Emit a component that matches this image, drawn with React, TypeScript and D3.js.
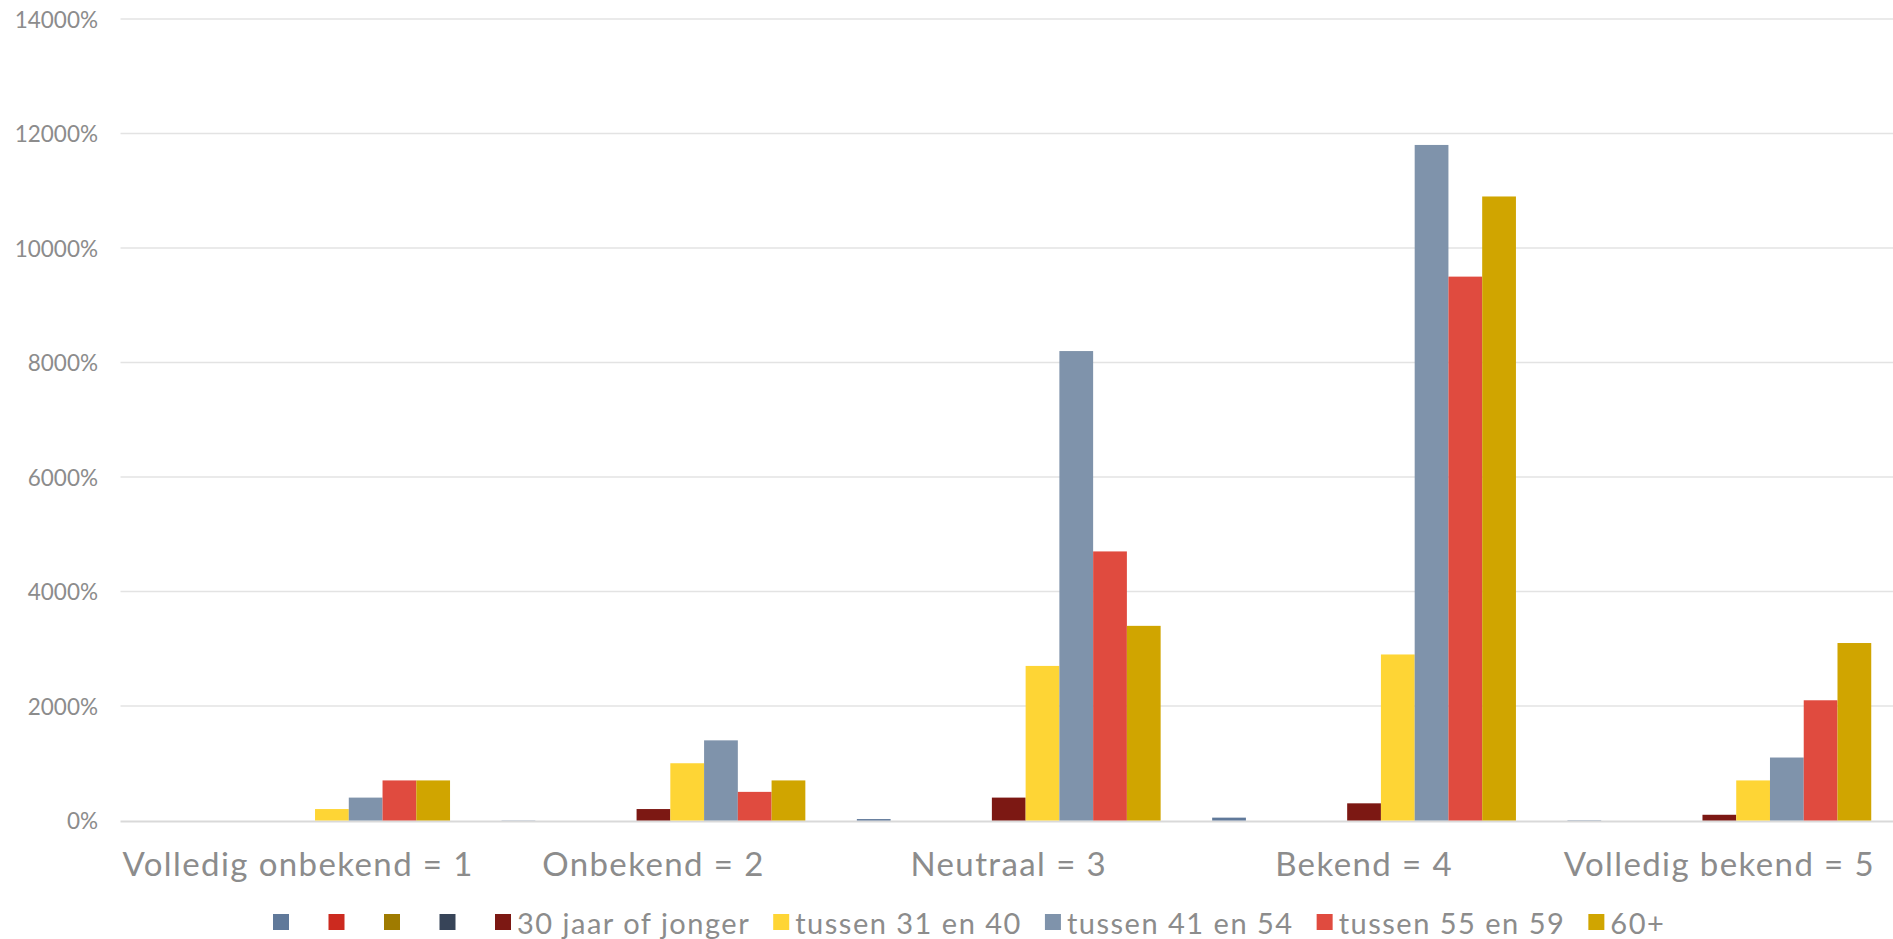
import React, { useEffect, useRef } from "react";
import * as d3 from "d3";

const categories = [
  "Volledig onbekend = 1",
  "Onbekend = 2",
  "Neutraal = 3",
  "Bekend = 4",
  "Volledig bekend = 5",
];
const seriesNames = [
  "",
  "",
  "",
  "",
  "30 jaar of jonger",
  "tussen 31 en 40",
  "tussen 41 en 54",
  "tussen 55 en 59",
  "60+",
];
const seriesColors = [
  "#60799a",
  "#cc2a1f",
  "#9f7b00",
  "#374458",
  "#7c1813",
  "#fed535",
  "#7f93ab",
  "#e04b3f",
  "#d0a500",
];
const serieA = [0, 3, 25, 50, 5];
const serieB = [0, 0, 0, 0, 0];
const serieC = [0, 0, 0, 0, 0];
const serieD = [0, 0, 0, 0, 0];
const jonger30 = [0, 200, 400, 300, 100];
const tussen31_40 = [200, 1000, 2700, 2900, 700];
const tussen41_54 = [400, 1400, 8200, 11800, 1100];
const tussen55_59 = [700, 500, 4700, 9500, 2100];
const plus60 = [700, 700, 3400, 10900, 3100];
const yTicks = [0, 2000, 4000, 6000, 8000, 10000, 12000, 14000];

const seriesValues = [
  serieA,
  serieB,
  serieC,
  serieD,
  jonger30,
  tussen31_40,
  tussen41_54,
  tussen55_59,
  plus60,
];

const W = 1893;
const H = 939;
const FONT = "Lato, 'Open Sans', sans-serif";
const TEXT = "#8c8c8c";

export default function App() {
  const ref = useRef<SVGSVGElement | null>(null);

  useEffect(() => {
    document.body.style.margin = "0";
    const svg = d3.select(ref.current);
    svg.selectAll("*").remove();

    const left = 120.5;
    const right = 1893;
    const y = d3.scaleLinear().domain([0, 14000]).range([820.5, 19]);
    const x0 = d3
      .scaleBand<string>()
      .domain(categories)
      .range([left, 1897])
      .paddingInner(0.145)
      .paddingOuter(0.0725);
    const x1 = d3
      .scaleBand<number>()
      .domain(d3.range(seriesNames.length))
      .range([0, x0.bandwidth()]);

    // gridlines
    svg
      .append("g")
      .selectAll("line")
      .data(yTicks.filter((t) => t > 0))
      .join("line")
      .attr("x1", left)
      .attr("x2", right)
      .attr("y1", (d) => y(d))
      .attr("y2", (d) => y(d))
      .attr("stroke", "#e3e3e3")
      .attr("stroke-width", 1.3);

    // baseline
    svg
      .append("line")
      .attr("x1", left)
      .attr("x2", right)
      .attr("y1", y(0) + 1)
      .attr("y2", y(0) + 1)
      .attr("stroke", "#d9d9d9")
      .attr("stroke-width", 2);

    // y labels
    svg
      .append("g")
      .selectAll("text")
      .data(yTicks)
      .join("text")
      .attr("x", 98)
      .attr("y", (d) => y(d))
      .attr("text-anchor", "end")
      .attr("dominant-baseline", "central")
      .attr("font-family", FONT)
      .attr("font-size", 22.5)
      .attr("fill", TEXT)
      .text((d) => `${d}%`);

    // bars
    const groups = svg
      .append("g")
      .selectAll("g")
      .data(categories)
      .join("g")
      .attr("transform", (d) => `translate(${x0(d)},0)`);

    groups
      .selectAll("rect")
      .data((_, ci) =>
        seriesValues.map((vals, si) => ({ si, v: vals[ci] }))
      )
      .join("rect")
      .attr("x", (d) => x1(d.si)!)
      .attr("width", x1.bandwidth())
      .attr("y", (d) => y(d.v))
      .attr("height", (d) => y(0) - y(d.v))
      .attr("fill", (d) => seriesColors[d.si]);

    // category labels
    svg
      .append("g")
      .selectAll("text")
      .data(categories)
      .join("text")
      .attr("x", (d) => x0(d)! + x0.bandwidth() / 2)
      .attr("y", 876)
      .attr("text-anchor", "middle")
      .attr("font-family", FONT)
      .attr("font-size", 33)
      .attr("letter-spacing", 1.4)
      .attr("fill", TEXT)
      .text((d) => d);

    // legend
    const lg = svg.append("g");
    const sq = 16;
    const tg = 6;
    const items: { g: any; w: number }[] = [];
    seriesNames.forEach((name, i) => {
      const g = lg.append("g");
      g.append("rect")
        .attr("x", 0)
        .attr("y", -sq / 2)
        .attr("width", sq)
        .attr("height", sq)
        .attr("fill", seriesColors[i]);
      let w = sq;
      if (name) {
        const t = g
          .append("text")
          .attr("x", sq + tg)
          .attr("y", 0)
          .attr("dominant-baseline", "central")
          .attr("font-family", FONT)
          .attr("font-size", 29)
          .attr("letter-spacing", 1.5)
          .attr("fill", TEXT)
          .text(name);
        w = sq + tg + (t.node() as SVGTextElement).getComputedTextLength();
      }
      items.push({ g, w });
    });
    const gapEmpty = 39.5;
    const gapText = 23;
    let cx = 273;
    items.forEach((it, i) => {
      it.g.attr("transform", `translate(${cx},922)`);
      cx += it.w + (seriesNames[i] ? gapText : gapEmpty);
    });
  }, []);

  return (
    <svg
      ref={ref}
      width={W}
      height={H}
      style={{ display: "block", background: "#fff" }}
    />
  );
}
